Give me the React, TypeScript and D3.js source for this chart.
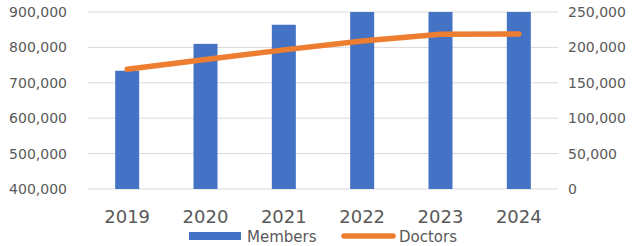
import React from "react";
import * as d3 from "d3";

const years = ["2019", "2020", "2021", "2022", "2023", "2024"];
const members = [734000, 810000, 864000, 925000, 960000, 990000];
const doctors = [169000, 183000, 196500, 209000, 218500, 219000];
const leftTicks = [400000, 500000, 600000, 700000, 800000, 900000];
const rightTicks = [0, 50000, 100000, 150000, 200000, 250000];
const seriesNames = ["Members", "Doctors"];

const W = 633, H = 246;
const left = 88, right = 558, top = 12, bottom = 189;
const font = "'DejaVu Sans', Verdana, sans-serif";
const textColor = "#595959";

export default function App() {
  const x = d3.scaleBand<string>().domain(years).range([left, right]).paddingInner(0).paddingOuter(0);
  const yL = d3.scaleLinear().domain([400000, 900000]).range([bottom, top]);
  const yR = d3.scaleLinear().domain([0, 250000]).range([bottom, top]);
  const fmt = d3.format(",");
  const barW = 24;
  const line = d3.line<number>()
    .x((_, i) => (x(years[i]) as number) + x.bandwidth() / 2)
    .y((d) => yR(d));

  return (
    <svg width={W} height={H} style={{ position: "absolute", left: 0, top: 0 }}>
      <defs>
        <clipPath id="plot">
          <rect x={left} y={top} width={right - left} height={bottom - top} />
        </clipPath>
      </defs>
      {leftTicks.map((t) => (
        <line key={t} x1={left} x2={right} y1={yL(t)} y2={yL(t)} stroke="#D9D9D9" strokeWidth={1} />
      ))}
      <g clipPath="url(#plot)">
        {members.map((v, i) => (
          <rect key={i} x={(x(years[i]) as number) + x.bandwidth() / 2 - barW / 2} y={yL(v)}
            width={barW} height={bottom - yL(v)} fill="#4472C4" />
        ))}
      </g>
      <path d={line(doctors) || ""} fill="none" stroke="#ED7D31" strokeWidth={5.5} strokeLinecap="round" strokeLinejoin="round" />
      {leftTicks.map((t) => (
        <text key={t} x={67} y={yL(t) + 5} textAnchor="end" fontFamily={font} fontSize={14} fill={textColor}>{fmt(t)}</text>
      ))}
      {rightTicks.map((t) => (
        <text key={t} x={568} y={yR(t) + 5} textAnchor="start" fontFamily={font} fontSize={14} fill={textColor}>{fmt(t)}</text>
      ))}
      {years.map((yv) => (
        <text key={yv} x={(x(yv) as number) + x.bandwidth() / 2} y={223} textAnchor="middle" fontFamily={font} fontSize={18} fill={textColor}>{yv}</text>
      ))}
      <rect x={189} y={232} width={52} height={8} fill="#4472C4" />
      <text x={247} y={241.5} fontFamily={font} fontSize={15} fill={textColor}>{seriesNames[0]}</text>
      <line x1={344} x2={393} y1={236} y2={236} stroke="#ED7D31" strokeWidth={5.5} strokeLinecap="round" />
      <text x={399} y={241.5} fontFamily={font} fontSize={15} fill={textColor}>{seriesNames[1]}</text>
    </svg>
  );
}
